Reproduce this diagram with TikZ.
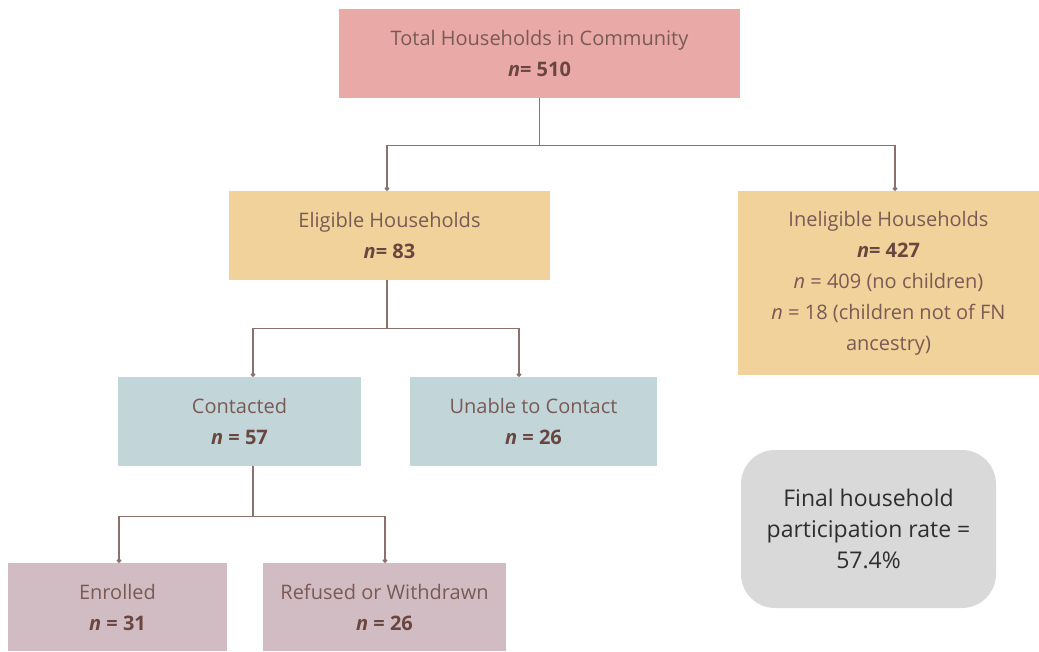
\documentclass[tikz,border=0pt]{standalone}
\usepackage{fontspec}
\setmainfont{Open Sans}
\usetikzlibrary{arrows.meta}
\definecolor{toppink}{HTML}{E9A9A7}
\definecolor{elig}{HTML}{F0D29A}
\definecolor{contc}{HTML}{C2D5D8}
\definecolor{enrc}{HTML}{D2BCC4}
\definecolor{finalc}{HTML}{D9D9D9}
\definecolor{txt}{HTML}{7A5A55}
\definecolor{txtb}{HTML}{6A4640}
\definecolor{linec}{HTML}{8B716C}
\definecolor{darktxt}{HTML}{2E2E2E}
\tikzset{
  box/.style={draw=none, inner sep=0pt, align=center, text=txt,
    font=\fontsize{20}{31}\selectfont},
  conn/.style={draw=linec, line width=1.3pt, -{Circle[length=4.5pt,width=4.5pt]}},
}
\newcommand{\nb}[1]{\textcolor{txtb}{\textbf{\textit{n}#1}}}
\begin{document}
\begin{tikzpicture}[x=1pt,y=-1pt]
\useasboundingbox (0,0) rectangle (1039,652);
\node[box, fill=toppink, minimum width=401pt, minimum height=89pt] (top) at (539.5,53.5)
  {Total Households in Community\\ \nb{= 510}};
\node[box, fill=elig, minimum width=321pt, minimum height=89pt] (elig) at (389.5,235.5)
  {Eligible Households\\ \nb{= 83}};
\node[box, fill=elig, minimum width=301pt, minimum height=184pt] (inel) at (888.5,283)
  {Ineligible Households\\ \nb{= 427}\\ \textit{n} = 409 (no children)\\ \textit{n} = 18 (children not of FN\\ ancestry)};
\node[box, fill=contc, minimum width=243pt, minimum height=89pt] (cont) at (239.5,421.5)
  {Contacted\\ \nb{ = 57}};
\node[box, fill=contc, minimum width=247pt, minimum height=89pt] (unab) at (533.5,421.5)
  {Unable to Contact\\ \nb{ = 26}};
\node[box, fill=enrc, minimum width=219pt, minimum height=88pt] (enr) at (117.5,607)
  {Enrolled\\ \nb{ = 31}};
\node[box, fill=enrc, minimum width=243pt, minimum height=88pt] (ref) at (384.5,607)
  {Refused or Withdrawn\\ \nb{ = 26}};
\node[box, fill=finalc, rounded corners=34pt, minimum width=255pt, minimum height=158pt,
  text=darktxt, font=\fontsize{23}{31}\selectfont] (fin) at (868.5,529)
  {Final household\\ participation rate =\\ 57.4\%};
% connectors
\draw[conn] (top.south) -- ++(0,47) -| ([xshift=-2.5pt]elig.north);
\draw[conn] (top.south) -- ++(0,47) -| ([xshift=6.5pt]inel.north);
\draw[conn] ([xshift=-2.5pt]elig.south) -- ++(0,48) -| ([xshift=13.5pt]cont.north);
\draw[conn] ([xshift=-2.5pt]elig.south) -- ++(0,48) -| ([xshift=-14.5pt]unab.north);
\draw[conn] ([xshift=13.5pt]cont.south) -- ++(0,50) -| ([xshift=1.5pt]enr.north);
\draw[conn] ([xshift=13.5pt]cont.south) -- ++(0,50) -| ([xshift=0.5pt]ref.north);
\end{tikzpicture}
\end{document}
